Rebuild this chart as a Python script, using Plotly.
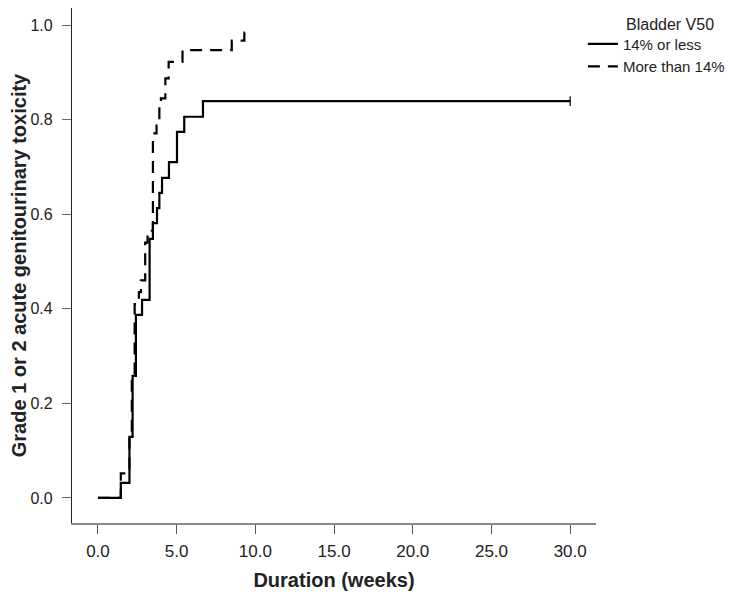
import plotly.graph_objects as go

# Data (cumulative incidence step curves)
solid_weeks = [0, 1.45, 2.0, 2.2, 2.41, 2.8, 3.28, 3.49, 3.75, 3.9, 4.07, 4.51, 5.02, 5.48, 6.67, 30]
solid_prob = [0, 0.032, 0.129, 0.258, 0.387, 0.419, 0.548, 0.581, 0.613, 0.645, 0.677, 0.710, 0.774, 0.806, 0.839, 0.839]

dashed_weeks = [0, 1.45, 2.0, 2.15, 2.33, 2.6, 2.73, 3.0, 3.15, 3.49, 3.72, 3.9, 4.0, 4.28, 4.49, 5.37, 8.5, 9.3, 9.35]
dashed_prob = [0, 0.052, 0.13, 0.26, 0.41, 0.435, 0.46, 0.54, 0.565, 0.771, 0.79, 0.83, 0.845, 0.887, 0.922, 0.947, 0.967, 0.984, 0.984]

censor_weeks = [30]
censor_prob = [0.839]

x_ticks = [0, 5, 10, 15, 20, 25, 30]
x_tick_labels = ["0.0", "5.0", "10.0", "15.0", "20.0", "25.0", "30.0"]
y_ticks = [0, 0.2, 0.4, 0.6, 0.8, 1.0]
y_tick_labels = ["0.0", "0.2", "0.4", "0.6", "0.8", "1.0"]

FONT = "Liberation Sans, Arial, sans-serif"

fig = go.Figure()
fig.add_trace(go.Scatter(
    x=solid_weeks, y=solid_prob, mode="lines", line_shape="hv",
    line=dict(color="black", width=2.2), name="14% or less"))
fig.add_trace(go.Scatter(
    x=dashed_weeks, y=dashed_prob, mode="lines", line_shape="hv",
    line=dict(color="black", width=2.2, dash="12px,8px"), name="More than 14%"))
fig.add_trace(go.Scatter(
    x=censor_weeks, y=censor_prob, mode="markers", showlegend=False,
    marker=dict(symbol="line-ns", size=7, line=dict(color="black", width=1.2))))

fig.add_annotation(
    text="Bladder V50", xref="paper", yref="paper", x=1.141, y=0.967,
    xanchor="center", yanchor="middle", showarrow=False,
    font=dict(size=16, color="#222222", family=FONT))

fig.update_layout(
    width=733, height=594,
    margin=dict(l=64, r=145, t=0, b=79, autoexpand=False),
    paper_bgcolor="white", plot_bgcolor="white",
    font=dict(family=FONT, color="#222222"),
    legend=dict(
        x=0.975, y=0.962, xanchor="left", yanchor="top",
        font=dict(size=15, color="#222222"),
        bgcolor="rgba(0,0,0,0)", tracegroupgap=0,
    ),
    showlegend=True,
)
fig.update_xaxes(
    range=[-1.65, 31.64], tickvals=x_ticks, ticktext=x_tick_labels,
    automargin=False,
    showgrid=False, zeroline=False, showline=True, linecolor="#8a8a8a", linewidth=1.5,
    ticks="outside", ticklen=9, tickcolor="#555555", tickwidth=1,
    ticklabelstandoff=3,
    tickfont=dict(size=17, color="#222222"),
    title=dict(text="<b>Duration (weeks)</b>", font=dict(size=20, color="#222222"), standoff=13),
)
fig.update_yaxes(
    range=[-0.053, 1.036], tickvals=y_ticks, ticktext=y_tick_labels,
    automargin=False,
    showgrid=False, zeroline=False, showline=True, linecolor="#222222", linewidth=1.2,
    ticks="outside", ticklen=9, tickcolor="#666666", tickwidth=1,
    ticklabelstandoff=6,
    tickfont=dict(size=16, color="#222222"),
    title=dict(text="<b>Grade 1 or 2 acute genitourinary toxicity</b>", font=dict(size=20, color="#222222"), standoff=10),
)

fig.write_html("out.html")
